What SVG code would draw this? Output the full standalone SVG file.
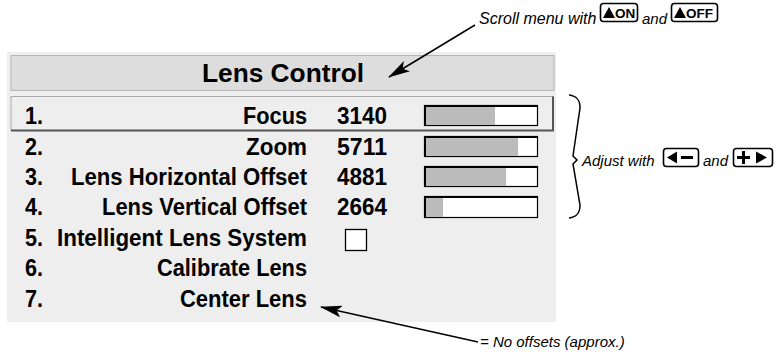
<svg xmlns="http://www.w3.org/2000/svg" width="778" height="352" viewBox="0 0 778 352">
<defs>
<style>
.row{font-family:"Liberation Sans",Arial,sans-serif;font-weight:bold;font-size:23px;fill:#000}
.ttl{font-family:"Liberation Sans",Arial,sans-serif;font-weight:bold;font-size:25px;fill:#000}
.note{font-family:"Liberation Sans",Arial,sans-serif;font-style:italic;font-size:15px;fill:#000}
.btn{fill:#fff;stroke:#000;stroke-width:1.6}
.btnt{font-family:"Liberation Sans",Arial,sans-serif;font-weight:bold;font-size:13.5px;fill:#000}
.bar{fill:#fff;stroke:#000;stroke-width:1.2}
.fill{fill:#bbbbbb}
.line{fill:none;stroke:#000;stroke-width:1.5}
</style>
<marker id="ah" markerUnits="userSpaceOnUse" markerWidth="22" markerHeight="12" refX="21" refY="6" orient="auto">
<path d="M0,0 L22,6 L0,12 L5,6 z" fill="#000"/>
</marker>
</defs>
<rect width="778" height="352" fill="#fff"/>
<g id="panel">
<rect x="7" y="52" width="549" height="270" fill="#eeeeee"/>
</g>
<g id="title">
<rect x="11" y="55.5" width="543" height="35" fill="#dddddd" stroke="#b5b5b5" stroke-width="1"/>
<text class="ttl" x="202" y="82" textLength="162" lengthAdjust="spacingAndGlyphs">Lens Control</text>
</g>
<g id="row1">
<rect x="11" y="96.5" width="542" height="34" fill="#eeeeee" stroke="#aaaaaa" stroke-width="1"/>
<path d="M11,130.5 H553 V96.5" fill="none" stroke="#555" stroke-width="2"/>
<text class="row" x="25" y="124" textLength="18" lengthAdjust="spacingAndGlyphs">1.</text>
<text class="row" x="243" y="124" textLength="64" lengthAdjust="spacingAndGlyphs">Focus</text>
<text class="row" x="337" y="124" textLength="50" lengthAdjust="spacingAndGlyphs">3140</text>
<rect class="bar" x="424.5" y="105.5" width="113" height="20"/>
<rect class="fill" x="426" y="107" width="69" height="18"/>
<path d="M425,126 V106 H537" fill="none" stroke="#000" stroke-width="2"/>
</g>
<g id="row2">
<text class="row" x="25" y="155" textLength="18" lengthAdjust="spacingAndGlyphs">2.</text>
<text class="row" x="246" y="155" textLength="61" lengthAdjust="spacingAndGlyphs">Zoom</text>
<text class="row" x="337" y="155" textLength="50" lengthAdjust="spacingAndGlyphs">5711</text>
<rect class="bar" x="424.5" y="136.5" width="113" height="20"/>
<rect class="fill" x="426" y="138" width="92" height="18"/>
<path d="M425,157 V137 H537" fill="none" stroke="#000" stroke-width="2"/>
</g>
<g id="row3">
<text class="row" x="25" y="185" textLength="18" lengthAdjust="spacingAndGlyphs">3.</text>
<text class="row" x="71" y="185" textLength="236" lengthAdjust="spacingAndGlyphs">Lens Horizontal Offset</text>
<text class="row" x="337" y="185" textLength="50" lengthAdjust="spacingAndGlyphs">4881</text>
<rect class="bar" x="424.5" y="166.5" width="113" height="20"/>
<rect class="fill" x="426" y="168" width="80" height="18"/>
<path d="M425,187 V167 H537" fill="none" stroke="#000" stroke-width="2"/>
</g>
<g id="row4">
<text class="row" x="25" y="215" textLength="18" lengthAdjust="spacingAndGlyphs">4.</text>
<text class="row" x="102" y="215" textLength="205" lengthAdjust="spacingAndGlyphs">Lens Vertical Offset</text>
<text class="row" x="337" y="215" textLength="50" lengthAdjust="spacingAndGlyphs">2664</text>
<rect class="bar" x="424.5" y="196.5" width="113" height="21"/>
<rect class="fill" x="426" y="198" width="17" height="19"/>
<path d="M425,218 V197 H537" fill="none" stroke="#000" stroke-width="2"/>
</g>
<g id="row5">
<text class="row" x="25" y="246" textLength="18" lengthAdjust="spacingAndGlyphs">5.</text>
<text class="row" x="57" y="246" textLength="250" lengthAdjust="spacingAndGlyphs">Intelligent Lens System</text>
<rect x="345.5" y="229.5" width="21" height="21" fill="#fff" stroke="#000" stroke-width="1.3"/>
</g>
<g id="row6">
<text class="row" x="25" y="276" textLength="18" lengthAdjust="spacingAndGlyphs">6.</text>
<text class="row" x="157" y="276" textLength="150" lengthAdjust="spacingAndGlyphs">Calibrate Lens</text>
</g>
<g id="row7">
<text class="row" x="25" y="307" textLength="18" lengthAdjust="spacingAndGlyphs">7.</text>
<text class="row" x="180" y="307" textLength="127" lengthAdjust="spacingAndGlyphs">Center Lens</text>
</g>
<g id="note-scroll">
<text class="note" x="479" y="24" style="font-size:16px">Scroll menu with</text>
<rect class="btn" x="600.5" y="3.5" width="37" height="18" rx="3"/>
<polygon points="603,18 609,7 615,18" fill="#000"/>
<text class="btnt" x="615" y="17.5">ON</text>
<text class="note" x="642" y="24">and</text>
<rect class="btn" x="671.5" y="3.5" width="46" height="18" rx="3"/>
<polygon points="674,18 680,7 686,18" fill="#000"/>
<text class="btnt" x="686" y="17.5">OFF</text>
</g>
<g id="note-adjust">
<text class="note" x="582" y="166">Adjust with</text>
<rect class="btn" x="663.5" y="148.5" width="35" height="18" rx="3"/>
<polygon points="667,157.5 677,151.5 677,163.5" fill="#000"/>
<rect x="681" y="156" width="12" height="3" fill="#000"/>
<text class="note" x="703" y="166">and</text>
<rect class="btn" x="733.5" y="148.5" width="39" height="18" rx="3"/>
<rect x="737" y="156" width="13" height="3" fill="#000"/>
<rect x="742" y="151" width="3" height="13" fill="#000"/>
<polygon points="756,151.5 767,157.5 756,163.5" fill="#000"/>
</g>
<g id="note-offsets">
<text class="note" x="480" y="347">= No offsets (approx.)</text>
</g>
<g id="connectors">
<line class="line" x1="475" y1="25" x2="389" y2="77" marker-end="url(#ah)"/>
<line class="line" x1="478" y1="342" x2="321" y2="307" marker-end="url(#ah)"/>
<path class="line" d="M569,95 C577,96 580,100 580,108 L573,156 L577,160 L573,164 L580,205 C580,213 577,217 569,218" stroke-width="1.3"/>
</g>
</svg>
